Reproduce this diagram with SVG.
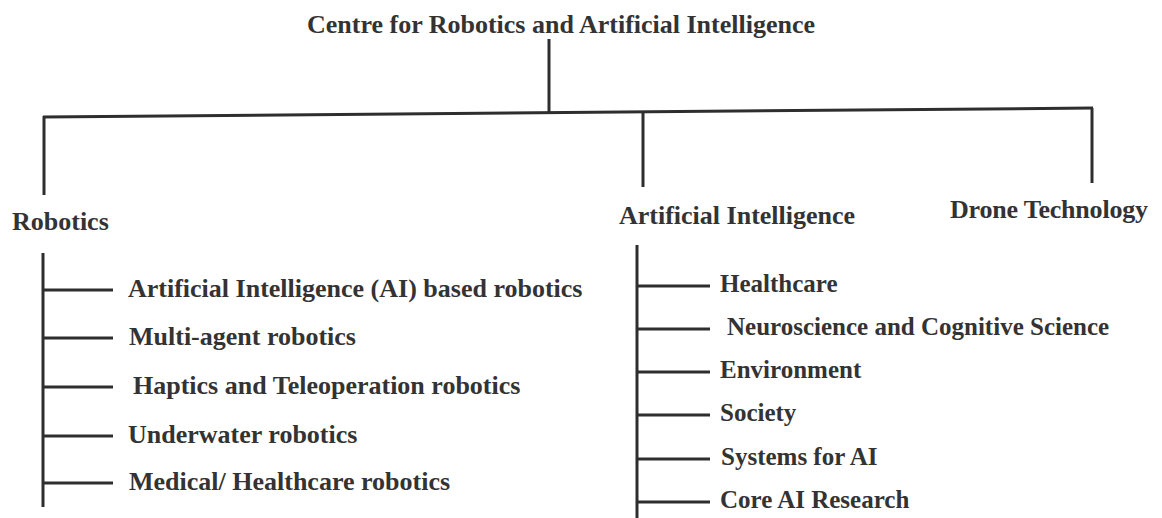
<svg xmlns="http://www.w3.org/2000/svg" width="1162" height="518" viewBox="0 0 1162 518">
<style>
text { font-family: "Liberation Serif", "Times New Roman", serif; font-weight: bold; font-size: 26px; fill: #333; }
.ai { font-size: 25px; }
line { stroke: #2e2e2e; stroke-width: 3; fill: none; stroke-linecap: butt; }
</style>
<rect width="1162" height="518" fill="#ffffff"/>
<g id="connectors">
  <line x1="549" y1="39" x2="549" y2="114"/>
  <line x1="43" y1="117" x2="1093" y2="108"/>
  <line x1="44" y1="116" x2="44" y2="195"/>
  <line x1="643" y1="112" x2="643" y2="187"/>
  <line x1="1092" y1="108" x2="1092" y2="183"/>
  <line x1="43" y1="253" x2="43" y2="507"/>
  <line x1="43" y1="290" x2="113" y2="290"/>
  <line x1="43" y1="338" x2="113" y2="338"/>
  <line x1="43" y1="387" x2="113" y2="387"/>
  <line x1="43" y1="436" x2="113" y2="436"/>
  <line x1="43" y1="483" x2="113" y2="483"/>
  <line x1="637" y1="245" x2="637" y2="518"/>
  <line x1="637" y1="286" x2="710" y2="286"/>
  <line x1="637" y1="329" x2="710" y2="329"/>
  <line x1="637" y1="372" x2="710" y2="372"/>
  <line x1="637" y1="415" x2="710" y2="415"/>
  <line x1="637" y1="459" x2="710" y2="459"/>
  <line x1="637" y1="502" x2="710" y2="502"/>
</g>
<g id="root"><text x="307" y="33" textLength="508">Centre for Robotics and Artificial Intelligence</text></g>
<g id="robotics"><text x="12" y="230">Robotics</text></g>
<g id="ai"><text x="619" y="224">Artificial Intelligence</text></g>
<g id="drone"><text x="950" y="218" textLength="198">Drone Technology</text></g>
<g id="r1"><text x="128" y="297">Artificial Intelligence (AI) based robotics</text></g>
<g id="r2"><text x="129" y="345">Multi-agent robotics</text></g>
<g id="r3"><text x="133" y="394">Haptics and Teleoperation robotics</text></g>
<g id="r4"><text x="128" y="443">Underwater robotics</text></g>
<g id="r5"><text x="129" y="490">Medical/ Healthcare robotics</text></g>
<g id="a1"><text class="ai" x="720" y="292">Healthcare</text></g>
<g id="a2"><text class="ai" x="727" y="335">Neuroscience and Cognitive Science</text></g>
<g id="a3"><text class="ai" x="720" y="378">Environment</text></g>
<g id="a4"><text class="ai" x="720" y="421">Society</text></g>
<g id="a5"><text class="ai" x="721" y="465">Systems for AI</text></g>
<g id="a6"><text class="ai" x="720" y="508">Core AI Research</text></g>
</svg>
